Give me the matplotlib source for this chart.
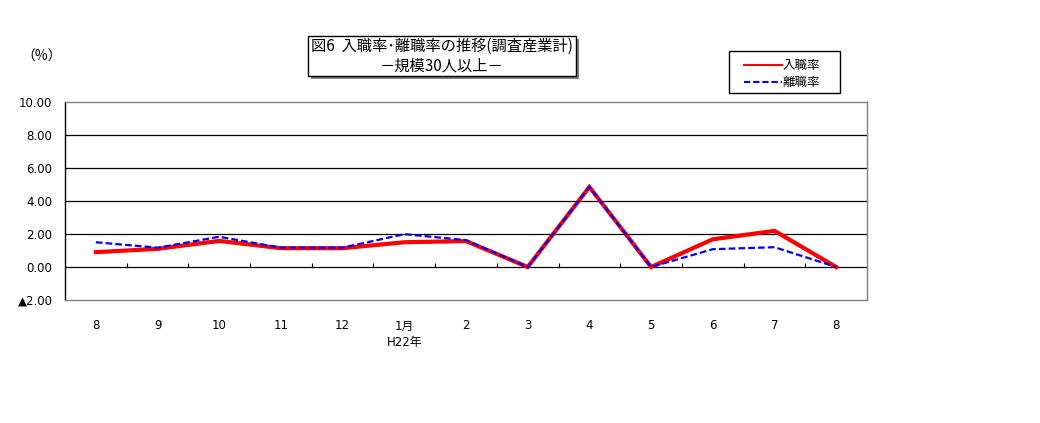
import matplotlib
matplotlib.use("Agg")
import matplotlib.pyplot as plt
from matplotlib.lines import Line2D
from matplotlib.patches import Rectangle
import numpy as np

plt.rcParams['font.family'] = ['DejaVu Sans', 'Noto Sans CJK JP']
JP = ['Noto Sans CJK JP', 'DejaVu Sans']

months = ["8", "9", "10", "11", "12", "1月\nH22年", "2", "3", "4", "5", "6", "7", "8"]
hire_rate = [0.90, 1.10, 1.58, 1.14, 1.14, 1.50, 1.57, 0.00, 4.85, 0.00, 1.68, 2.19, 0.00]
sep_rate = [1.50, 1.17, 1.83, 1.17, 1.17, 1.99, 1.63, 0.00, 4.85, 0.00, 1.08, 1.20, 0.00]
y_ticks = [-2, 0, 2, 4, 6, 8, 10]
y_labels = ["▲2.00", "0.00", "2.00", "4.00", "6.00", "8.00", "10.00"]
series_names = ["入職率", "離職率"]
title_lines = "図6  入職率･離職率の推移(調査産業計)\n－規模30人以上－"

W, H = 1040, 423
fig = plt.figure(figsize=(W / 100, H / 100), dpi=100)
ax = fig.add_axes([65 / W, 1 - 300 / H, (867 - 65) / W, (300 - 102) / H])

x = np.arange(len(months))
ax.plot(x, hire_rate, color="#ff0000", lw=3.0, solid_joinstyle="miter", zorder=3)
ax.plot(x, sep_rate, color="#0000ff", lw=1.6, linestyle=(0, (3, 1.4)), zorder=4)

ax.set_xlim(-0.5, len(months) - 0.5)
ax.set_ylim(-2, 10)

# horizontal grid lines
for v in y_ticks[1:-1]:
    ax.axhline(v, color="black", lw=0.9, zorder=1)

# category-boundary ticks on the zero line
ax.vlines(np.arange(0.5, len(months) - 1), 0, 0.25, color="black", lw=0.8, zorder=2)

ax.set_yticks(y_ticks)
ax.set_yticklabels(y_labels, fontsize=8.5)
ax.tick_params(axis="y", length=0, pad=9)
ax.set_xticks(x)
ax.set_xticklabels(months, fontsize=8.5, va="top", linespacing=1.4)
ax.tick_params(axis="x", length=0, pad=14)

for side in ["top", "right", "bottom"]:
    ax.spines[side].set_color("#808080")
    ax.spines[side].set_linewidth(1.0)
ax.spines["left"].set_color("black")
ax.spines["left"].set_linewidth(1.0)

# unit label
fig.text(42 / W, 1 - 57 / H, "（%）", fontsize=10, ha="center", va="center", family=JP)

# title box with shadow
bx0, by0, bx1, by1 = 308, 36, 576, 76
fig.patches.append(Rectangle(((bx0 + 3) / W, 1 - (by1 + 3) / H), (bx1 - bx0) / W, (by1 - by0) / H,
                             transform=fig.transFigure, facecolor="#808080", edgecolor="none", zorder=1))
fig.patches.append(Rectangle((bx0 / W, 1 - by1 / H), (bx1 - bx0) / W, (by1 - by0) / H,
                             transform=fig.transFigure, facecolor="white", edgecolor="black", lw=1.0, zorder=2))
fig.text((bx0 + bx1) / 2 / W, 1 - (by0 + by1) / 2 / H, title_lines, fontsize=11,
         ha="center", va="center", linespacing=1.2, zorder=3, family=JP)

# legend: fixed-size frame with the entries placed inside
lx0, ly0, lx1, ly1 = 729, 51, 840, 93
fig.patches.append(Rectangle((lx0 / W, 1 - ly1 / H), (lx1 - lx0) / W, (ly1 - ly0) / H,
                             transform=fig.transFigure, facecolor="white", edgecolor="black", lw=1.0, zorder=2))
handles = [Line2D([], [], color="#ff0000", lw=1.5),
           Line2D([], [], color="#0000ff", lw=1.5, linestyle=(0, (3, 1.4)))]
leg = fig.legend(handles, series_names, loc="upper left", bbox_to_anchor=(744 / W, 1 - 59 / H),
                 prop={"family": JP, "size": 9}, frameon=False, handlelength=3.0,
                 handletextpad=0.1, borderpad=0, labelspacing=0.35, borderaxespad=0)
leg.set_zorder(3)

fig.savefig("out.png", dpi=100)
